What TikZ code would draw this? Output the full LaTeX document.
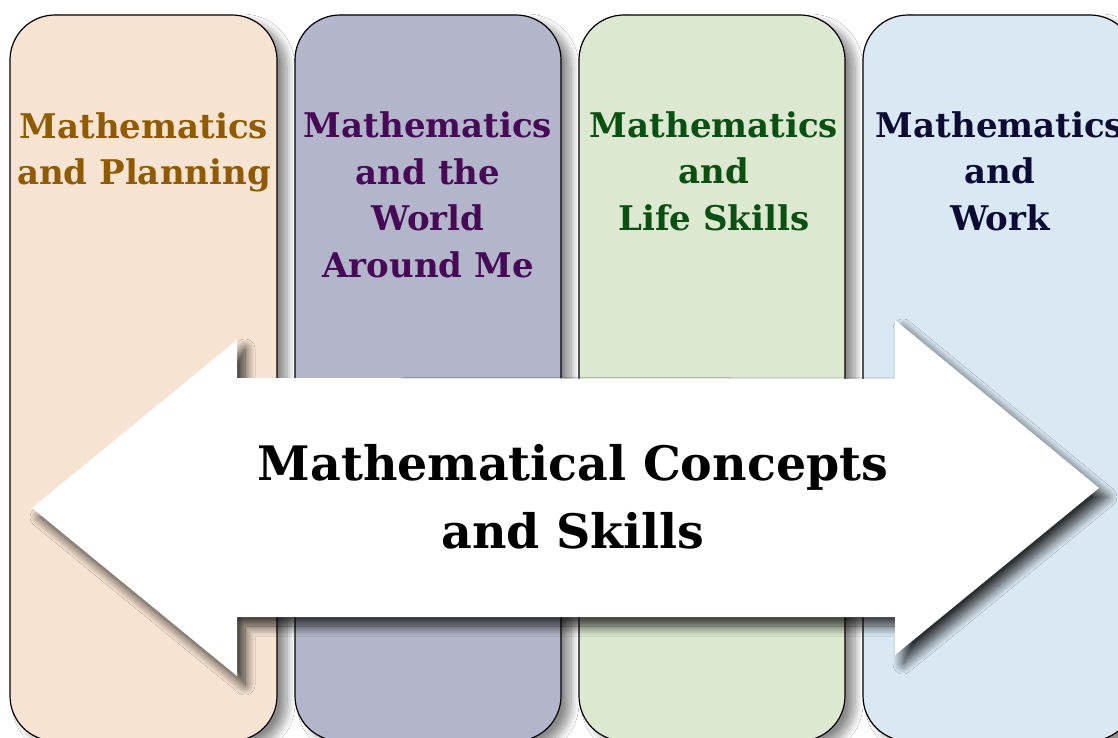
\documentclass[tikz,border=0pt]{standalone}
\usepackage{fontspec}
\setmainfont{DejaVu Serif}
\usetikzlibrary{shadows.blur}
\definecolor{fillA}{HTML}{F7E3D2}
\definecolor{fillB}{HTML}{B3B6CA}
\definecolor{fillC}{HTML}{DCE8D0}
\definecolor{fillD}{HTML}{D9E8F3}
\definecolor{textA}{HTML}{8F5A00}
\definecolor{textB}{HTML}{470A57}
\definecolor{textC}{HTML}{0C4F12}
\definecolor{textD}{HTML}{0B0B33}
\tikzset{
  column/.style={draw=black, line width=1.2pt, rounded corners=45pt,
    blur shadow={shadow xshift=10pt, shadow yshift=-7pt, shadow blur radius=8pt, shadow blur steps=12, shadow opacity=45}},
  coltext/.style={anchor=base, align=center, font=\bfseries\fontsize{34}{46.5}\selectfont, inner sep=0pt},
  bigarrow/.style={fill=white, draw=none,
    blur shadow={shadow xshift=8pt, shadow yshift=-9pt, shadow blur radius=10pt, shadow blur steps=14, shadow opacity=80}},
  maintext/.style={anchor=base, align=center, font=\bfseries\fontsize{47.5}{68}\selectfont, inner sep=0pt}
}
\begin{document}
\begin{tikzpicture}[x=1pt, y=-1pt]
\useasboundingbox (0,0) rectangle (1118,738);
\fill[white] (0,0) rectangle (1118,738);
% columns
\draw[column, fill=fillA] (10,15) rectangle (277,741);
\draw[column, fill=fillB] (295,15) rectangle (561,741);
\draw[column, fill=fillC] (579,15) rectangle (845,741);
\draw[column, fill=fillD] (863,15) rectangle (1135,741);
% column titles (anchor = baseline of last line)
\node[coltext, text=textA] (ta) at (144,185) {Mathematics\\and Planning};
\node[coltext, text=textB] (tb) at (428,277) {Mathematics\\and the\\World\\Around Me};
\node[coltext, text=textC] (tc) at (714,230) {Mathematics\\and\\Life Skills};
\node[coltext, text=textD] (td) at (1000,230) {Mathematics\\and\\Work};
% double arrow
\path[bigarrow] (32,508) -- (237,340) -- (237,378) -- (895,379) -- (895,320)
  -- (1099,488) -- (895,655) -- (895,617) -- (237,617) -- (237,676) -- cycle;
\node[maintext] (main) at (573,548) {Mathematical Concepts\\and Skills};
\end{tikzpicture}
\end{document}
